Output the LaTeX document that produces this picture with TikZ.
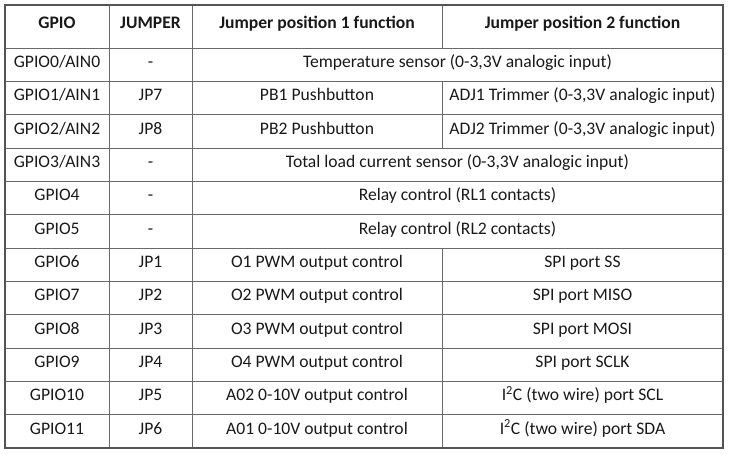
\documentclass[tikz,border=0pt]{standalone}
\usepackage{fontspec}
\setmainfont{Carlito}
\definecolor{gridc}{RGB}{105,105,105}
\definecolor{txtc}{RGB}{25,25,25}
\begin{document}
\begin{tikzpicture}[x=1pt,y=-1pt,
  cell/.style={inner sep=0pt,anchor=base,text=txtc,font=\fontsize{17.6}{20}\selectfont},
  head/.style={cell,font=\fontsize{17.6}{20}\selectfont\bfseries},
  gridline/.style={draw=gridc,line width=0.9pt},
  border/.style={draw=gridc!80!black,line width=1.2pt}]
\useasboundingbox (0,0) rectangle (731,455);
% column edges
\def\xa{5}\def\xb{109}\def\xc{192}\def\xd{442}\def\xe{723}
\def\ytop{5}\def\yh{48}\def\rh{33.333}
% horizontal lines
\foreach \i in {0,...,11} {
  \draw[gridline] (\xa,{\yh+\i*\rh}) -- (\xe,{\yh+\i*\rh});
}
% vertical lines: full columns
\draw[gridline] (\xb,\ytop) -- (\xb,448);
\draw[gridline] (\xc,\ytop) -- (\xc,448);
% col 3|4 line: header, rows 2-3, rows 7-12
\draw[gridline] (\xd,\ytop) -- (\xd,\yh);
\draw[gridline] (\xd,{\yh+\rh}) -- (\xd,{\yh+3*\rh});
\draw[gridline] (\xd,{\yh+6*\rh}) -- (\xd,448);
% outer border
\draw[border] (\xa,\ytop) rectangle (\xe,448);
% header
\node[head] (h1) at (57,28) {GPIO};
\node[head] (h2) at (150.5,28) {JUMPER};
\node[head] (h3) at (317,28) {Jumper position 1 function};
\node[head] (h4) at (582.5,28) {Jumper position 2 function};
% rows
\def\bl#1{{\yh+(#1-1)*\rh+19.6}}
\node[cell] (g0) at (57,\bl{1}) {GPIO0/AIN0};
\node[cell] (j0) at (150.5,\bl{1}) {-};
\node[cell] (f0) at (457.5,\bl{1}) {Temperature sensor (0-3,3V analogic input)};
\node[cell] (g1) at (57,\bl{2}) {GPIO1/AIN1};
\node[cell] (j1) at (150.5,\bl{2}) {JP7};
\node[cell] (a1) at (317,\bl{2}) {PB1 Pushbutton};
\node[cell] (b1) at (582.5,\bl{2}) {ADJ1 Trimmer (0-3,3V analogic input)};
\node[cell] (g2) at (57,\bl{3}) {GPIO2/AIN2};
\node[cell] (j2) at (150.5,\bl{3}) {JP8};
\node[cell] (a2) at (317,\bl{3}) {PB2 Pushbutton};
\node[cell] (b2) at (582.5,\bl{3}) {ADJ2 Trimmer (0-3,3V analogic input)};
\node[cell] (g3) at (57,\bl{4}) {GPIO3/AIN3};
\node[cell] (j3) at (150.5,\bl{4}) {-};
\node[cell] (f3) at (457.5,\bl{4}) {Total load current sensor (0-3,3V analogic input)};
\node[cell] (g4) at (57,\bl{5}) {GPIO4};
\node[cell] (j4) at (150.5,\bl{5}) {-};
\node[cell] (f4) at (457.5,\bl{5}) {Relay control (RL1 contacts)};
\node[cell] (g5) at (57,\bl{6}) {GPIO5};
\node[cell] (j5) at (150.5,\bl{6}) {-};
\node[cell] (f5) at (457.5,\bl{6}) {Relay control (RL2 contacts)};
\node[cell] (g6) at (57,\bl{7}) {GPIO6};
\node[cell] (j6) at (150.5,\bl{7}) {JP1};
\node[cell] (a6) at (317,\bl{7}) {O1 PWM output control};
\node[cell] (b6) at (582.5,\bl{7}) {SPI port SS};
\node[cell] (g7) at (57,\bl{8}) {GPIO7};
\node[cell] (j7) at (150.5,\bl{8}) {JP2};
\node[cell] (a7) at (317,\bl{8}) {O2 PWM output control};
\node[cell] (b7) at (582.5,\bl{8}) {SPI port MISO};
\node[cell] (g8) at (57,\bl{9}) {GPIO8};
\node[cell] (j8) at (150.5,\bl{9}) {JP3};
\node[cell] (a8) at (317,\bl{9}) {O3 PWM output control};
\node[cell] (b8) at (582.5,\bl{9}) {SPI port MOSI};
\node[cell] (g9) at (57,\bl{10}) {GPIO9};
\node[cell] (j9) at (150.5,\bl{10}) {JP4};
\node[cell] (a9) at (317,\bl{10}) {O4 PWM output control};
\node[cell] (b9) at (582.5,\bl{10}) {SPI port SCLK};
\node[cell] (g10) at (57,\bl{11}) {GPIO10};
\node[cell] (j10) at (150.5,\bl{11}) {JP5};
\node[cell] (a10) at (317,\bl{11}) {A02 0-10V output control};
\node[cell] (b10) at (582.5,\bl{11}) {I\textsuperscript{2}C (two wire) port SCL};
\node[cell] (g11) at (57,\bl{12}) {GPIO11};
\node[cell] (j11) at (150.5,\bl{12}) {JP6};
\node[cell] (a11) at (317,\bl{12}) {A01 0-10V output control};
\node[cell] (b11) at (582.5,\bl{12}) {I\textsuperscript{2}C (two wire) port SDA};
\end{tikzpicture}
\end{document}
